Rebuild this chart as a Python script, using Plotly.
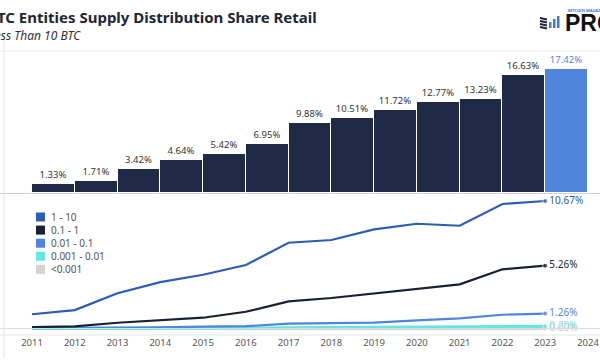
import plotly.graph_objects as go

# ---------------- data ----------------
years = [2011, 2012, 2013, 2014, 2015, 2016, 2017, 2018, 2019, 2020, 2021, 2022, 2023]
tick_years = [2011, 2012, 2013, 2014, 2015, 2016, 2017, 2018, 2019, 2020, 2021, 2022, 2023, 2024]
bar_values = [1.33, 1.71, 3.42, 4.64, 5.42, 6.95, 9.88, 10.51, 11.72, 12.77, 13.23, 16.63, 17.42]

series_names = ["1 - 10", "0.1 - 1", "0.01 - 0.1", "0.001 - 0.01", "<0.001"]
s_1_10 = [1.20, 1.55, 2.96, 3.89, 4.50, 5.32, 7.18, 7.41, 8.30, 8.77, 8.60, 10.42, 10.67]
s_01_1 = [0.13, 0.19, 0.49, 0.72, 0.91, 1.41, 2.28, 2.56, 2.95, 3.31, 3.70, 4.96, 5.26]
s_001_01 = [0.04, 0.05, 0.08, 0.11, 0.16, 0.20, 0.41, 0.45, 0.50, 0.69, 0.86, 1.16, 1.26]
s_0001_001 = [0.01, 0.01, 0.02, 0.03, 0.04, 0.05, 0.08, 0.09, 0.11, 0.13, 0.15, 0.18, 0.20]
s_lt_0001 = [0.00, 0.00, 0.00, 0.00, 0.00, 0.00, 0.00, 0.00, 0.00, 0.00, 0.00, 0.00, 0.00]
series_values = [s_1_10, s_01_1, s_001_01, s_0001_001, s_lt_0001]

# ---------------- style ----------------
W, H = 600, 360
ML, MR, MT, MB = 4, 0, 51, 25
PW, PH = W - ML - MR, H - MT - MB
FONT = "Noto Sans"
bar_dark = "#1f2a47"
bar_last = "#4f86dc"
series_colors = ["#2c5cb3", "#1a1f33", "#4f86dc", "#62e6e6", "#d3d3d3"]
label_colors = ["#2c5cb3", "#1a1f33", "#4f86dc", "#7fe3e0", "#c8c8c8"]


def px(x):
    return (x - ML) / PW


def py(y):
    return (H - MB - y) / PH


fig = go.Figure()

# bars (top panel)
bar_colors = [bar_dark] * (len(years) - 1) + [bar_last]
bar_text_colors = ["#333333"] * (len(years) - 1) + [bar_last]
fig.add_trace(go.Bar(
    x=[y + 0.5 for y in years], y=bar_values, width=1,
    marker=dict(color=bar_colors, line=dict(color="white", width=1)),
    text=[f"{v:.2f}%" for v in bar_values], textposition="outside",
    textfont=dict(size=9.5, color=bar_text_colors, family=FONT),
    cliponaxis=False, xaxis="x", yaxis="y2", showlegend=False,
    hoverinfo="skip",
))

# lines (bottom panel), small series first so the big lines sit on top
order = [4, 3, 2, 1, 0]
for i in order:
    vals = series_values[i]
    n = len(vals)
    fig.add_trace(go.Scatter(
        x=years, y=vals, mode="lines+markers+text",
        line=dict(color=series_colors[i], width=2.2 if i < 3 else 3),
        marker=dict(size=[0] * (n - 1) + [5], color=series_colors[i]),
        text=[""] * (n - 1) + [f"{vals[-1]:.2f}%"],
        textposition="middle right",
        textfont=dict(size=10, color=label_colors[i], family=FONT),
        cliponaxis=False, xaxis="x", yaxis="y", showlegend=False,
        hoverinfo="skip",
    ))

# x range so that 2011 sits at pixel 32 and 2024 at pixel 588
ppy = (588 - 32) / 13.0
x0 = 2011 - (32 - ML) / ppy
x1 = x0 + PW / ppy

fig.update_layout(
    width=W, height=H,
    margin=dict(l=ML, r=MR, t=MT, b=MB, pad=0),
    paper_bgcolor="white", plot_bgcolor="white",
    font=dict(family=FONT, color="#555555"),
    bargap=0,
    xaxis=dict(
        range=[x0, x1], tickmode="array", tickvals=tick_years,
        ticktext=[str(t) for t in tick_years],
        tickfont=dict(size=9.5, color="#555555"),
        showgrid=False, zeroline=False, showline=False, anchor="y",
        ticks="", ticklen=0,
    ),
    yaxis=dict(domain=[0, 0.5], range=[-0.535, 11.34], showgrid=False,
               zeroline=False, showticklabels=False, ticks=""),
    yaxis2=dict(domain=[0.5, 1], range=[0, 19.95], showgrid=False,
                zeroline=False, showticklabels=False, ticks=""),
)

shapes = []
# frame / guide lines
shapes.append(dict(type="line", xref="paper", yref="paper", x0=px(0), x1=px(600),
                   y0=py(51), y1=py(51), line=dict(color="#ececec", width=1)))
shapes.append(dict(type="line", xref="paper", yref="paper", x0=px(0), x1=px(600),
                   y0=py(193.5), y1=py(193.5), line=dict(color="#cfcfcf", width=1)))
shapes.append(dict(type="line", xref="paper", yref="paper", x0=px(0), x1=px(600),
                   y0=py(328.5), y1=py(328.5), line=dict(color="#dcdcdc", width=1)))
shapes.append(dict(type="line", xref="paper", yref="paper", x0=px(0), x1=px(600),
                   y0=py(335), y1=py(335), line=dict(color="#e6e6e6", width=1)))
shapes.append(dict(type="line", xref="paper", yref="paper", x0=px(4), x1=px(4),
                   y0=py(40), y1=py(358), line=dict(color="#e6e6e6", width=1)))

annotations = []
# manual legend
for k, name in enumerate(series_names):
    yc = 217 + k * 13.1
    shapes.append(dict(type="rect", xref="paper", yref="paper",
                       x0=px(36), x1=px(45), y0=py(yc - 4.5), y1=py(yc + 4.5),
                       fillcolor=series_colors[k], line=dict(width=0)))
    annotations.append(dict(text=name, xref="paper", yref="paper", x=px(48.5), y=py(yc),
                            xanchor="left", yanchor="middle", showarrow=False,
                            font=dict(size=10, color="#555555", family=FONT)))

# title and subtitle (partially cut off at the left edge)
annotations.append(dict(text="<b>BTC Entities Supply Distribution Share Retail</b>",
                        xref="paper", yref="paper", x=px(-15), y=py(17),
                        xanchor="left", yanchor="middle", showarrow=False,
                        font=dict(size=15, color="#1e2638", family=FONT)))
annotations.append(dict(text="<i>Less Than 10 BTC</i>",
                        xref="paper", yref="paper", x=px(-13), y=py(36),
                        xanchor="left", yanchor="middle", showarrow=False,
                        font=dict(size=12, color="#333333", family=FONT)))

# logo
for j, (xa, h) in enumerate([(549, 6), (553, 9), (557, 12)]):
    shapes.append(dict(type="rect", xref="paper", yref="paper",
                       x0=px(xa), x1=px(xa + 2.5), y0=py(28), y1=py(28 - h),
                       fillcolor="#3d7bd9", line=dict(width=0)))
for j in range(4):
    yy = 18 + j * 3
    shapes.append(dict(type="line", xref="paper", yref="paper",
                       x0=px(540), x1=px(547), y0=py(yy), y1=py(yy + 1.5),
                       line=dict(color="#1e2638", width=2)))
annotations.append(dict(text="<b>PRO</b>", xref="paper", yref="paper", x=px(563), y=py(23),
                        xanchor="left", yanchor="middle", showarrow=False,
                        font=dict(size=23, color="#111111", family="Liberation Sans")))
annotations.append(dict(text="<b>BITCOIN MAGAZINE</b>", xref="paper", yref="paper", x=px(566), y=py(11),
                        xanchor="left", yanchor="middle", showarrow=False,
                        font=dict(size=4, color="#3d7bd9", family=FONT)))

fig.update_layout(shapes=shapes, annotations=annotations)
fig.write_html("out.html", config={"displayModeBar": False},
               post_script="document.body.style.margin='0';document.body.style.overflow='hidden';")
